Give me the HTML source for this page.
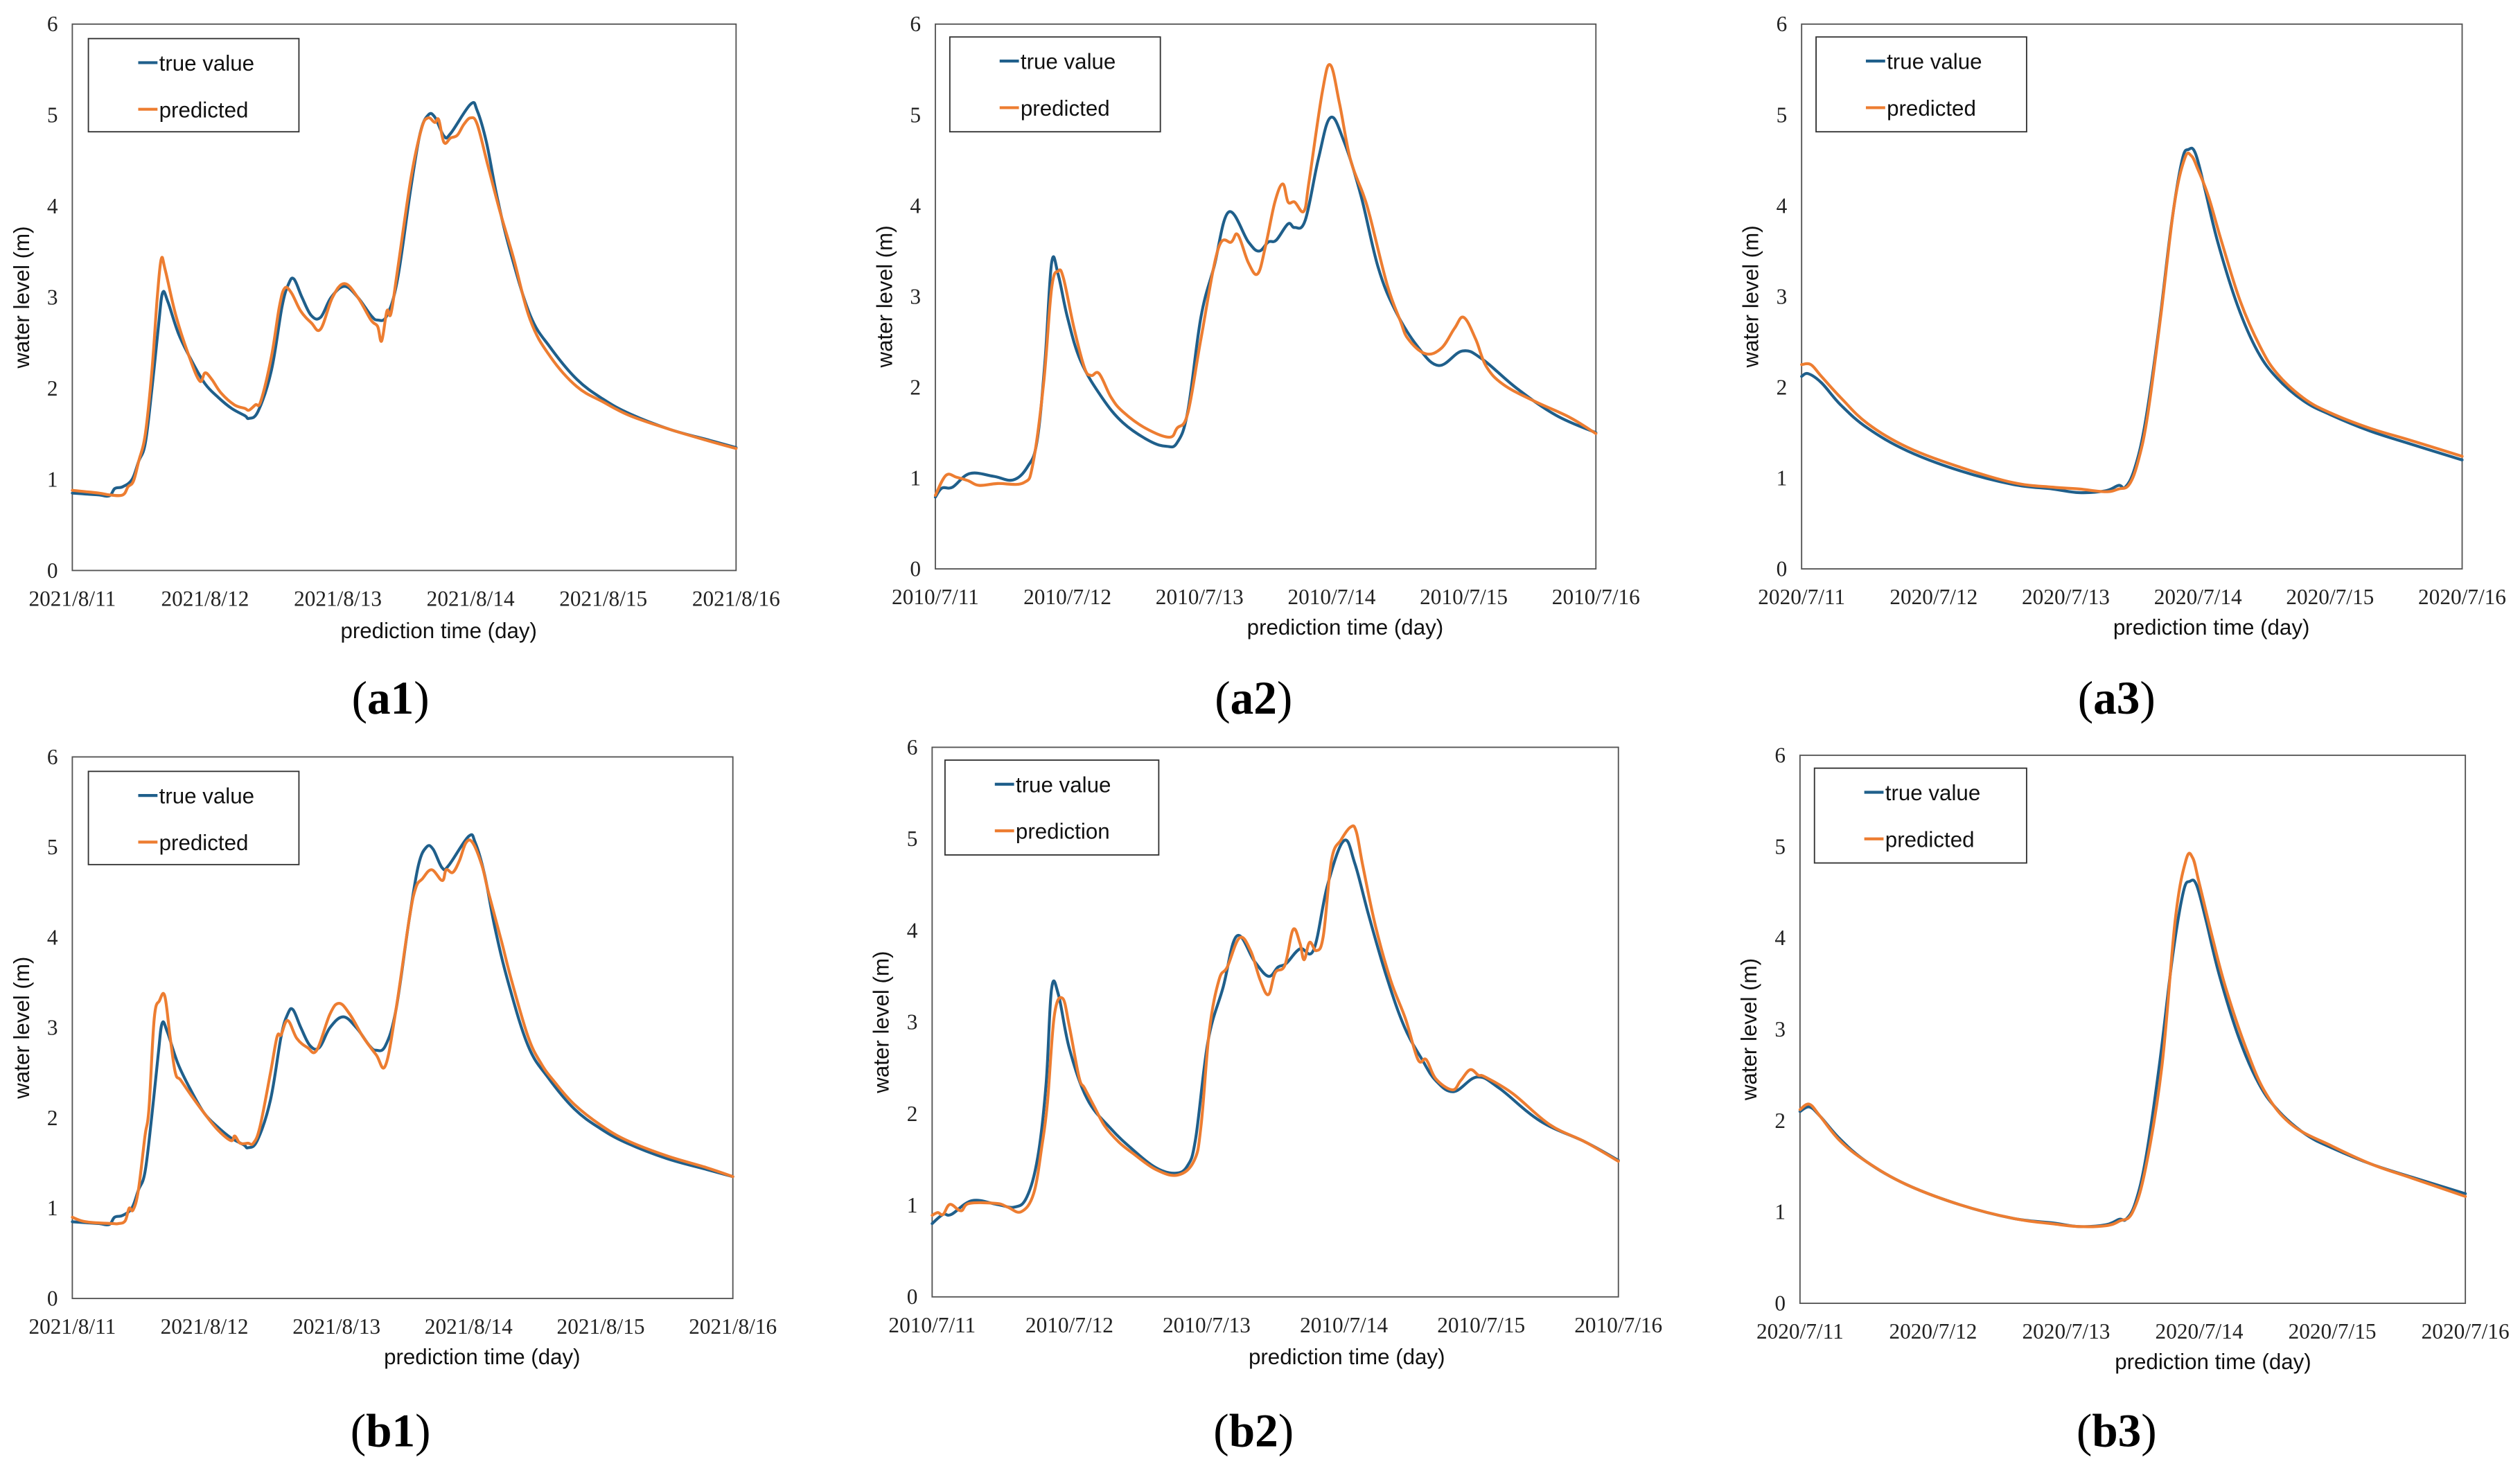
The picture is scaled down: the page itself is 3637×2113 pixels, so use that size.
<!DOCTYPE html>
<html><head><meta charset="utf-8"><style>
html,body{margin:0;padding:0;background:#fff}
svg{display:block}
</style></head><body>
<svg id="fig" width="3637" height="2113" viewBox="0 0 1568 911" preserveAspectRatio="none" xmlns="http://www.w3.org/2000/svg"></svg>
<script>
const xTickLabelsA1 = ["2021/8/11","2021/8/12","2021/8/13","2021/8/14","2021/8/15","2021/8/16"];
const xTickLabelsA2 = ["2010/7/11","2010/7/12","2010/7/13","2010/7/14","2010/7/15","2010/7/16"];
const xTickLabelsA3 = ["2020/7/11","2020/7/12","2020/7/13","2020/7/14","2020/7/15","2020/7/16"];
const yTickValues = [0,1,2,3,4,5,6];

const a1TrueT = [0,0.1,0.2,0.28,0.32,0.38,0.45,0.5,0.55,0.6,0.65,0.68,0.72,0.8,0.9,1.0,1.1,1.2,1.3,1.33,1.4,1.5,1.58,1.63,1.67,1.73,1.8,1.87,1.95,2.05,2.15,2.25,2.3,2.37,2.45,2.55,2.62,2.68,2.73,2.8,2.85,3.0,3.05,3.12,3.2,3.3,3.45,3.6,3.8,4.0,4.2,4.5,4.8,5.0];
const a1TrueV = [0.85,0.84,0.83,0.82,0.9,0.92,1.0,1.2,1.4,2.0,2.7,3.05,2.95,2.6,2.3,2.05,1.9,1.78,1.7,1.67,1.75,2.2,2.9,3.15,3.2,3.0,2.8,2.78,3.0,3.12,3.0,2.8,2.75,2.8,3.2,4.2,4.8,5.0,4.98,4.77,4.8,5.12,5.05,4.7,4.1,3.5,2.8,2.45,2.1,1.88,1.72,1.55,1.43,1.35];
const a1PredT = [0,0.2,0.28,0.38,0.42,0.46,0.5,0.55,0.6,0.64,0.67,0.7,0.78,0.88,0.96,1.0,1.05,1.12,1.22,1.3,1.33,1.38,1.42,1.5,1.56,1.6,1.65,1.72,1.8,1.87,1.96,2.05,2.15,2.25,2.3,2.33,2.37,2.4,2.45,2.55,2.63,2.68,2.73,2.76,2.8,2.85,2.9,2.95,3.0,3.05,3.13,3.22,3.32,3.45,3.6,3.8,4.0,4.2,4.5,4.8,5.0];
const a1PredV = [0.88,0.85,0.83,0.83,0.92,0.98,1.2,1.5,2.2,3.0,3.42,3.3,2.8,2.35,2.08,2.17,2.1,1.95,1.82,1.78,1.76,1.82,1.86,2.35,2.9,3.1,3.05,2.85,2.72,2.65,3.0,3.15,3.0,2.75,2.68,2.52,2.85,2.82,3.3,4.3,4.85,4.97,4.92,4.95,4.7,4.75,4.78,4.9,4.97,4.9,4.45,3.95,3.45,2.75,2.35,2.02,1.85,1.7,1.55,1.42,1.34];

const b1TrueT = a1TrueT.slice();
const b1TrueV = a1TrueV.slice();
const b1PredT = [0,0.1,0.3,0.35,0.4,0.43,0.46,0.5,0.55,0.58,0.62,0.66,0.7,0.74,0.78,0.82,0.9,1.0,1.1,1.2,1.23,1.27,1.33,1.37,1.42,1.5,1.55,1.58,1.63,1.7,1.78,1.85,1.95,2.02,2.1,2.2,2.3,2.37,2.45,2.55,2.6,2.65,2.72,2.8,2.83,2.88,2.93,2.98,3.03,3.1,3.15,3.25,3.32,3.45,3.55,3.65,3.8,4.0,4.2,4.5,4.8,5.0];
const b1PredV = [0.9,0.85,0.83,0.83,0.86,1.0,0.98,1.2,1.8,2.1,3.1,3.3,3.35,2.9,2.5,2.42,2.25,2.05,1.87,1.75,1.8,1.72,1.72,1.72,1.9,2.5,2.9,2.92,3.08,2.88,2.78,2.75,3.15,3.27,3.15,2.9,2.7,2.58,3.2,4.2,4.55,4.65,4.75,4.63,4.75,4.72,4.85,5.05,5.05,4.8,4.5,3.95,3.55,2.9,2.6,2.4,2.15,1.92,1.75,1.58,1.45,1.35];

const a2TrueT = [0,0.05,0.13,0.26,0.44,0.59,0.7,0.77,0.83,0.88,0.93,1.0,1.1,1.26,1.42,1.62,1.75,1.83,1.91,2.01,2.11,2.22,2.37,2.45,2.52,2.58,2.67,2.72,2.8,2.9,2.99,3.09,3.22,3.35,3.48,3.65,3.81,3.99,4.14,4.4,4.7,5.0];
const a2TrueV = [0.79,0.89,0.9,1.05,1.02,0.98,1.13,1.41,2.29,3.37,3.24,2.77,2.29,1.89,1.61,1.41,1.35,1.39,1.73,2.77,3.33,3.93,3.6,3.5,3.6,3.62,3.8,3.76,3.84,4.52,4.97,4.72,4.12,3.33,2.85,2.45,2.24,2.4,2.31,1.99,1.69,1.5];
const a2PredT = [0,0.08,0.16,0.25,0.33,0.47,0.67,0.74,0.82,0.88,0.93,0.97,1.05,1.13,1.18,1.24,1.33,1.42,1.59,1.77,1.83,1.91,2.01,2.14,2.24,2.29,2.37,2.44,2.5,2.57,2.63,2.67,2.72,2.79,2.83,2.93,2.99,3.06,3.14,3.24,3.29,3.42,3.52,3.58,3.71,3.83,3.93,4.0,4.09,4.17,4.3,4.53,4.8,5.0];
const a2PredV = [0.81,1.03,1.01,0.97,0.92,0.94,0.95,1.17,2.05,3.09,3.28,3.2,2.65,2.21,2.13,2.15,1.89,1.73,1.55,1.45,1.55,1.71,2.53,3.52,3.6,3.68,3.37,3.25,3.56,4.04,4.24,4.04,4.04,3.94,4.28,5.26,5.55,5.12,4.52,4.12,3.88,3.13,2.73,2.53,2.37,2.43,2.65,2.77,2.53,2.23,2.03,1.85,1.67,1.49];

const b2TrueT = [0,0.08,0.14,0.29,0.47,0.6,0.69,0.77,0.83,0.87,0.92,1.0,1.13,1.3,1.46,1.63,1.77,1.86,1.92,2.01,2.12,2.22,2.35,2.45,2.52,2.58,2.68,2.78,2.88,3.0,3.08,3.18,3.31,3.44,3.57,3.67,3.8,3.97,4.13,4.43,4.76,5.0];
const b2TrueV = [0.8,0.9,0.9,1.05,1.01,0.98,1.09,1.53,2.32,3.36,3.3,2.71,2.16,1.84,1.61,1.41,1.35,1.43,1.73,2.79,3.38,3.94,3.66,3.5,3.6,3.64,3.8,3.79,4.49,4.98,4.73,4.17,3.5,2.95,2.59,2.36,2.24,2.4,2.28,1.92,1.69,1.49];
const b2PredT = [0,0.04,0.08,0.13,0.21,0.27,0.47,0.55,0.65,0.74,0.8,0.84,0.89,0.95,1.0,1.07,1.11,1.18,1.26,1.36,1.46,1.63,1.79,1.91,1.96,2.02,2.09,2.15,2.24,2.32,2.39,2.45,2.5,2.57,2.63,2.68,2.71,2.75,2.8,2.85,2.91,2.98,3.05,3.09,3.14,3.23,3.34,3.45,3.54,3.6,3.67,3.79,3.85,3.92,3.98,4.03,4.23,4.5,4.76,5.0];
const b2PredV = [0.89,0.92,0.9,1.01,0.94,1.02,1.02,0.98,0.93,1.13,1.65,2.12,3.07,3.26,2.95,2.4,2.28,2.08,1.86,1.69,1.57,1.39,1.33,1.49,1.88,2.91,3.46,3.6,3.92,3.78,3.46,3.3,3.54,3.62,4.01,3.86,3.68,3.87,3.78,3.94,4.77,4.99,5.13,5.08,4.69,4.05,3.46,3.03,2.59,2.59,2.38,2.26,2.36,2.48,2.42,2.4,2.22,1.88,1.69,1.48];

const a3TrueT = [0,0.05,0.15,0.3,0.5,0.8,1.2,1.6,1.9,2.1,2.3,2.4,2.45,2.52,2.6,2.7,2.8,2.88,2.93,2.98,3.05,3.15,3.3,3.45,3.6,3.8,4.0,4.3,4.6,5.0];
const a3TrueV = [2.12,2.15,2.05,1.8,1.55,1.3,1.08,0.93,0.88,0.84,0.86,0.92,0.9,1.1,1.6,2.6,3.8,4.5,4.62,4.58,4.2,3.6,2.9,2.4,2.1,1.85,1.7,1.52,1.38,1.2];
const a3PredT = [0,0.07,0.15,0.3,0.5,0.8,1.2,1.6,1.9,2.1,2.3,2.4,2.48,2.55,2.62,2.72,2.82,2.9,2.95,3.0,3.08,3.18,3.32,3.47,3.6,3.8,4.0,4.3,4.6,5.0];
const a3PredV = [2.25,2.25,2.12,1.88,1.6,1.34,1.12,0.95,0.9,0.88,0.85,0.88,0.93,1.2,1.7,2.8,4.0,4.52,4.55,4.4,4.1,3.6,2.95,2.45,2.15,1.88,1.72,1.55,1.42,1.24];

const b3TrueT = [0,0.07,0.15,0.3,0.5,0.8,1.2,1.6,1.9,2.1,2.3,2.4,2.45,2.52,2.6,2.7,2.8,2.88,2.93,2.98,3.05,3.15,3.3,3.45,3.6,3.8,4.0,4.3,4.6,5.0];
const b3TrueV = [2.1,2.15,2.05,1.8,1.55,1.3,1.08,0.93,0.88,0.84,0.86,0.92,0.92,1.1,1.6,2.6,3.8,4.5,4.62,4.58,4.2,3.6,2.9,2.4,2.1,1.85,1.7,1.52,1.38,1.2];
const b3PredT = [0,0.07,0.15,0.3,0.5,0.8,1.2,1.6,1.9,2.1,2.3,2.4,2.5,2.6,2.72,2.82,2.9,2.95,3.0,3.1,3.2,3.35,3.5,3.7,4.0,4.3,4.6,5.0];
const b3PredV = [2.12,2.18,2.05,1.78,1.55,1.3,1.08,0.93,0.87,0.84,0.85,0.9,1.0,1.5,2.6,4.2,4.85,4.88,4.6,4.0,3.45,2.8,2.3,1.95,1.72,1.52,1.37,1.17];

const NS = "http://www.w3.org/2000/svg";
const svg = document.getElementById('fig');
function mk(tag, attrs, parent){
  const e = document.createElementNS(NS, tag);
  for (const k in attrs) e.setAttribute(k, attrs[k]);
  (parent||svg).appendChild(e);
  return e;
}
function txt(str, attrs, parent){ const e = mk('text', attrs, parent); e.textContent = str; return e; }
function smoothPath(P){
  let d = 'M' + P[0][0].toFixed(2) + ',' + P[0][1].toFixed(2);
  const k = 0.18;
  for (let i = 0; i < P.length - 1; i++){
    const p0 = P[Math.max(0,i-1)], p1 = P[i], p2 = P[i+1], p3 = P[Math.min(P.length-1,i+2)];
    const c1x = p1[0] + (p2[0]-p0[0])*k, c1y = p1[1] + (p2[1]-p0[1])*k;
    const c2x = p2[0] - (p3[0]-p1[0])*k, c2y = p2[1] - (p3[1]-p1[1])*k;
    d += ' C' + c1x.toFixed(2)+','+c1y.toFixed(2)+' '+c2x.toFixed(2)+','+c2y.toFixed(2)+' '+p2[0].toFixed(2)+','+p2[1].toFixed(2);
  }
  return d;
}

const panels = [
 {id:'a1', L:45, R:458, T:15, B:355, xt:xTickLabelsA1, tT:a1TrueT, tV:a1TrueV, pT:a1PredT, pV:a1PredV, leg:[55,24,131,58], pred:'predicted', xtx:273, xty:397, lab:243, laby:444},
 {id:'a2', L:582, R:993, T:15, B:354, xt:xTickLabelsA2, tT:a2TrueT, tV:a2TrueV, pT:a2PredT, pV:a2PredV, leg:[591,23,131,59], pred:'predicted', xtx:837, xty:395, lab:780, laby:444},
 {id:'a3', L:1121, R:1532, T:15, B:354, xt:xTickLabelsA3, tT:a3TrueT, tV:a3TrueV, pT:a3PredT, pV:a3PredV, leg:[1130,23,131,59], pred:'predicted', xtx:1376, xty:395, lab:1317, laby:444},
 {id:'b1', L:45, R:456, T:471, B:808, xt:xTickLabelsA1, tT:b1TrueT, tV:b1TrueV, pT:b1PredT, pV:b1PredV, leg:[55,480,131,58], pred:'predicted', xtx:300, xty:849, lab:243, laby:900},
 {id:'b2', L:580, R:1007, T:465, B:807, xt:xTickLabelsA2, tT:b2TrueT, tV:b2TrueV, pT:b2PredT, pV:b2PredV, leg:[588,473,133,59], pred:'prediction', xtx:838, xty:849, lab:780, laby:900},
 {id:'b3', L:1120, R:1534, T:470, B:811, xt:xTickLabelsA3, tT:b3TrueT, tV:b3TrueV, pT:b3PredT, pV:b3PredV, leg:[1129,478,132,59], pred:'predicted', xtx:1377, xty:852, lab:1317, laby:900}
];

panels.forEach(p => {
  const g = mk('g', {});
  
  
  const xs = t => p.L + (p.R - p.L) * t / 5;
  const ys = v => p.B - (p.B - p.T) * v / 6;
  const frame = mk('rect', {x:p.L, y:p.T, width:p.R-p.L, height:p.B-p.T, fill:'none', stroke:'#555', 'stroke-width':0.8}, g);
  
  
  yTickValues.forEach(v => {
    const t = txt(String(v), {x:p.L-9, y:ys(v)+4.5, 'text-anchor':'end', 'font-family':'Liberation Serif, serif', 'font-size':13.5, fill:'#222'}, g);
    
    
  });
  p.xt.forEach((s, i) => {
    const t = txt(s, {x:xs(i), y:p.B+22, 'text-anchor':'middle', 'font-family':'Liberation Serif, serif', 'font-size':13.5, fill:'#222'}, g);
    
    
  });
  const cy = (p.T + p.B) / 2;
  const yt = txt('water level (m)', {x:0, y:0, transform:`translate(${p.L-27},${cy}) rotate(-90)`, 'text-anchor':'middle', 'font-family':'Liberation Sans, sans-serif', 'font-size':13.5, fill:'#111'}, g);
  
  
  const xt = txt('prediction time (day)', {x:p.xtx, y:p.xty, 'text-anchor':'middle', 'font-family':'Liberation Sans, sans-serif', 'font-size':13.5, fill:'#111'}, g);
  
  
  const mkLine = (T, V, color, name) => {
    const P = T.map((t, i) => [xs(t), ys(V[i])]);
    const l = mk('path', {d:smoothPath(P), fill:'none', stroke:color, 'stroke-width':1.8, 'stroke-linejoin':'round', 'stroke-linecap':'round'}, g);
    
    
  };
  mkLine(p.tT, p.tV, '#1f5f8b', 'true-value-line');
  mkLine(p.pT, p.pV, '#ed7d31', 'predicted-line');
  const [lx, ly, lw, lh] = p.leg;
  const lg = mk('g', {}, g);
  
  
  mk('rect', {x:lx, y:ly, width:lw, height:lh, fill:'#fff', stroke:'#333', 'stroke-width':0.8}, lg);
  [['true value', '#1f5f8b', 15], [p.pred, '#ed7d31', 44]].forEach(([s, c, dy]) => {
    mk('line', {x1:lx+31, x2:lx+43, y1:ly+dy, y2:ly+dy, stroke:c, 'stroke-width':1.8}, lg);
    const t = txt(s, {x:lx+44, y:ly+dy+5, 'font-family':'Liberation Sans, sans-serif', 'font-size':13.5, fill:'#111'}, lg);
    
    
  });
  const lab = txt('', {x:p.lab, y:p.laby, 'text-anchor':'middle', 'font-family':'Liberation Serif, serif', 'font-size':29, fill:'#000'}, g);
  
  
  const s1 = document.createElementNS(NS, 'tspan'); s1.textContent = '('; lab.appendChild(s1);
  const s2 = document.createElementNS(NS, 'tspan'); s2.setAttribute('font-weight', 'bold'); s2.textContent = p.id; lab.appendChild(s2);
  const s3 = document.createElementNS(NS, 'tspan'); s3.textContent = ')'; lab.appendChild(s3);
});
</script>
</body></html>
